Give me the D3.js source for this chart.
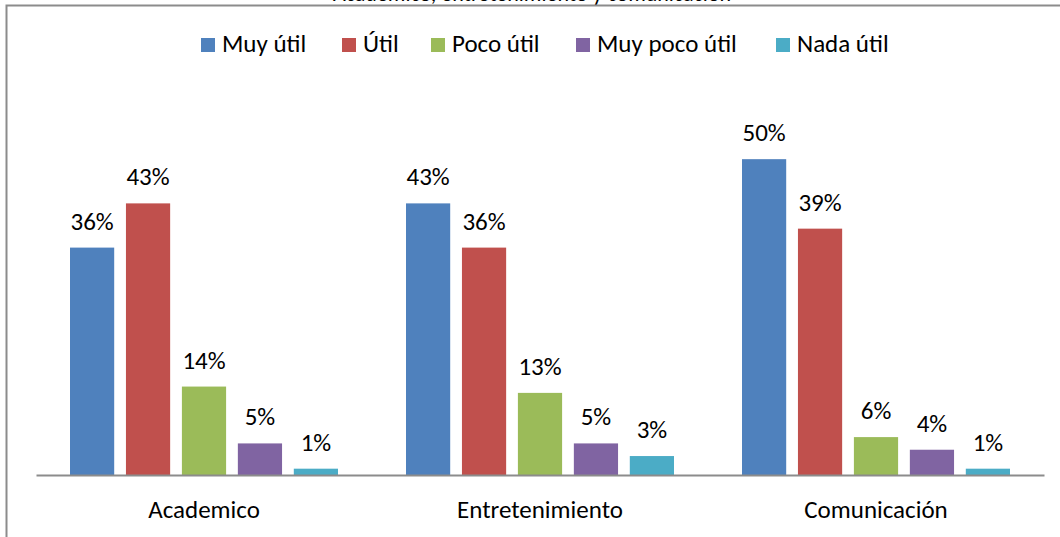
<!DOCTYPE html>
<html>
<head>
<meta charset="utf-8">
<script src="https://cdn.jsdelivr.net/npm/d3@7"></script>
<style>
  body { margin: 0; background: #fff; }
  text { font-family: Carlito, Calibri, "Open Sans", sans-serif; fill: #000; }
</style>
</head>
<body>
<script>
//chart data
var categories = ["Academico", "Entretenimiento", "Comunicación"];
var seriesNames = ["Muy útil", "Útil", "Poco útil", "Muy poco útil", "Nada útil"];
var seriesColors = ["#4f81bd", "#c0504d", "#9bbb59", "#8064a2", "#4bacc6"];
//one array per series, values in percent per category
var muyUtil = [36, 43, 50];
var util = [43, 36, 39];
var pocoUtil = [14, 13, 6];
var muyPocoUtil = [5, 5, 4];
var nadaUtil = [1, 3, 1];
var titleText = "Académico, entretenimiento y comunicación";

var series = [muyUtil, util, pocoUtil, muyPocoUtil, nadaUtil];

var width = 1060,
  height = 537;

var svg = d3.select("body")
  .append("svg")
  .attr("width", width)
  .attr("height", height);

//title, mostly cut off above the frame like in the source picture
svg.append("text")
  .attr("x", 532)
  .attr("y", 1)
  .attr("text-anchor", "middle")
  .style("font-size", "22px")
  .text(titleText);

//chart frame (only top and left edges are visible in the crop)
svg.append("path")
  .attr("d", "M6.5," + height + "V5.5H" + width)
  .attr("fill", "none")
  .attr("stroke", "#8c8c8c")
  .attr("stroke-width", 2);

var plotLeft = 36, plotRight = 1044, baseY = 475;

var x0 = d3.scaleBand()
  .domain(categories)
  .range([plotLeft, plotRight])
  .paddingInner(0)
  .paddingOuter(0);

var x1 = d3.scaleBand()
  .domain(d3.range(seriesNames.length))
  .range([34, x0.bandwidth() - 34])
  .paddingInner(0.21)
  .paddingOuter(0);

var y = d3.scaleLinear()
  .domain([0, 60])
  .range([baseY, baseY - 379]);

//bars
var groups = svg.selectAll(".group")
  .data(categories)
  .enter()
  .append("g")
  .attr("class", "group")
  .attr("transform", function(d) { return "translate(" + x0(d) + ",0)"; });

groups.selectAll("rect")
  .data(function(d, ci) {
    return series.map(function(s, si) { return {si: si, v: s[ci]}; });
  })
  .enter()
  .append("rect")
  .attr("x", function(d) { return x1(d.si); })
  .attr("y", function(d) { return y(d.v); })
  .attr("width", x1.bandwidth())
  .attr("height", function(d) { return baseY - y(d.v); })
  .attr("fill", function(d) { return seriesColors[d.si]; });

//value labels
groups.selectAll(".lbl")
  .data(function(d, ci) {
    return series.map(function(s, si) { return {si: si, v: s[ci]}; });
  })
  .enter()
  .append("text")
  .attr("class", "lbl")
  .attr("x", function(d) { return x1(d.si) + x1.bandwidth() / 2; })
  .attr("y", function(d) { return y(d.v) - 18; })
  .attr("text-anchor", "middle")
  .style("font-size", "25px")
  .text(function(d) { return d.v + "%"; });

//category axis
var xAxis = svg.append("g")
  .attr("transform", "translate(0," + baseY + ")")
  .call(d3.axisBottom(x0).tickSize(0).tickPadding(25));
xAxis.select(".domain")
  .attr("stroke", "#8c8c8c")
  .attr("stroke-width", 2);
xAxis.selectAll("text")
  .style("font-size", "25px")
  .attr("fill", "#000");

//legend
var legendX = [201, 342, 431, 576, 776];
var legend = svg.selectAll(".legend")
  .data(seriesNames)
  .enter()
  .append("g")
  .attr("class", "legend")
  .attr("transform", function(d, i) { return "translate(" + legendX[i] + ",52)"; });

legend.append("rect")
  .attr("x", 0)
  .attr("y", -14)
  .attr("width", 14)
  .attr("height", 14)
  .attr("fill", function(d, i) { return seriesColors[i]; });

legend.append("text")
  .attr("x", 21)
  .attr("y", 0)
  .style("font-size", "25px")
  .text(function(d) { return d; });
</script>
</body>
</html>
